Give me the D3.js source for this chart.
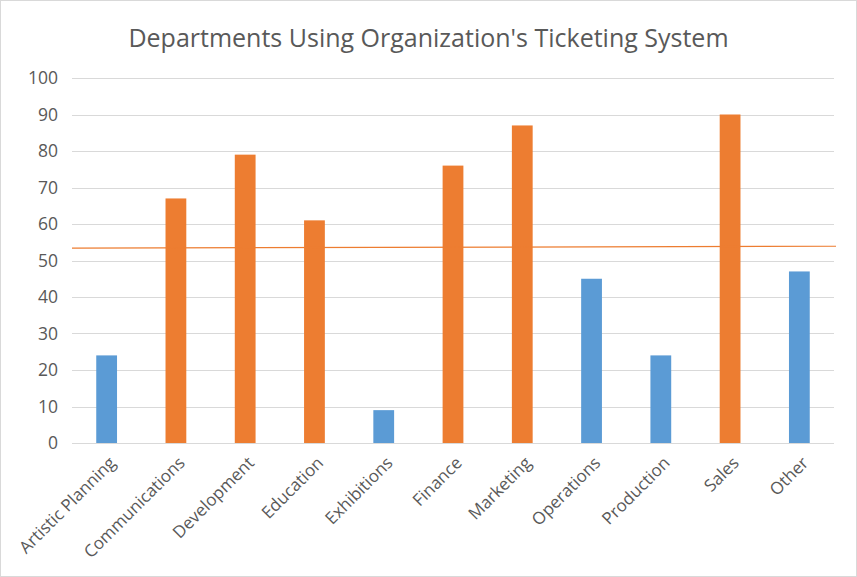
<!DOCTYPE html>
<html lang="en">
<head>
<meta charset="UTF-8">
<title>Departments Using Organization's Ticketing System</title>
<script src="https://cdn.jsdelivr.net/npm/d3@7"></script>
<style>
  body { margin: 0; background: #fff; }
  text { font-family: "Open Sans", "Noto Sans", sans-serif; fill: #595959; }
</style>
</head>
<body>
<div id="chart"></div>
<script>
// data
let departments = ["Artistic Planning", "Communications", "Development", "Education", "Exhibitions",
                   "Finance", "Marketing", "Operations", "Production", "Sales", "Other"];
let usage = [24, 67, 79, 61, 9, 76, 87, 45, 24, 90, 47];
let aboveLine = [false, true, true, true, false, true, true, false, false, true, false];
let lineEnds = [53.4, 53.9];   // orange reference line, left and right end
let yTicks = [0, 10, 20, 30, 40, 50, 60, 70, 80, 90, 100];

let w = 857, h = 577;
let plotLeft = 72, plotRight = 834, plotTop = 78, plotBottom = 443;

let svg = d3.select("#chart").append("svg")
    .attr("width", w)
    .attr("height", h);

// chart border
svg.append("rect")
   .attr("x", 0.5).attr("y", 0.5)
   .attr("width", w - 1).attr("height", h - 1)
   .attr("fill", "#fff")
   .attr("stroke", "#d9d9d9");

svg.append("text")
   .attr("x", w / 2)
   .attr("y", 47)
   .attr("text-anchor", "middle")
   .style("font-size", "25px")
   .text("Departments Using Organization's Ticketing System");

let xScale = d3.scaleBand()
    .domain(departments)
    .range([plotLeft, plotRight])
    .paddingInner(0.7)
    .paddingOuter(0.35);

let yScale = d3.scaleLinear()
    .domain([0, 100])
    .range([plotBottom, plotTop]);

// gridlines
svg.append("g")
   .selectAll("line")
   .data(yTicks)
   .enter()
   .append("line")
   .attr("x1", plotLeft).attr("x2", plotRight)
   .attr("y1", d => Math.round(yScale(d)) + 0.5)
   .attr("y2", d => Math.round(yScale(d)) + 0.5)
   .attr("stroke", "#d9d9d9")
   .attr("stroke-width", 1);

// y axis labels
let yAxis = d3.axisLeft(yScale).tickValues(yTicks).tickSize(0).tickPadding(14);
let yg = svg.append("g")
   .attr("transform", "translate(" + plotLeft + ",0)")
   .call(yAxis);
yg.select(".domain").remove();
yg.selectAll("text")
  .style("font-size", "17.5px")
  .attr("fill", "#595959")
  .style("font-family", "'Open Sans', 'Noto Sans', sans-serif");

// bars
svg.append("g")
   .selectAll("rect")
   .data(departments)
   .enter()
   .append("rect")
   .attr("x", d => xScale(d))
   .attr("y", (d, i) => yScale(usage[i]))
   .attr("width", xScale.bandwidth())
   .attr("height", (d, i) => plotBottom - yScale(usage[i]))
   .attr("fill", (d, i) => aboveLine[i] ? "#ed7d31" : "#5b9bd5");

// orange reference line
svg.append("line")
   .attr("x1", plotLeft)
   .attr("x2", plotRight + 2)
   .attr("y1", yScale(lineEnds[0]))
   .attr("y2", yScale(lineEnds[1]))
   .attr("stroke", "#ed7d31")
   .attr("stroke-width", 1.2);

// x axis labels, rotated
let xAxis = d3.axisBottom(xScale).tickSize(0).tickPadding(0);
let xg = svg.append("g")
   .attr("transform", "translate(0," + plotBottom + ")")
   .call(xAxis);
xg.select(".domain").remove();
xg.selectAll("text")
  .attr("text-anchor", "end")
  .attr("dy", null)
  .attr("y", null)
  .attr("transform", "translate(10,21) rotate(-45)")
  .style("font-size", "17px")
  .attr("fill", "#595959")
  .style("font-family", "'Open Sans', 'Noto Sans', sans-serif");
</script>
</body>
</html>
